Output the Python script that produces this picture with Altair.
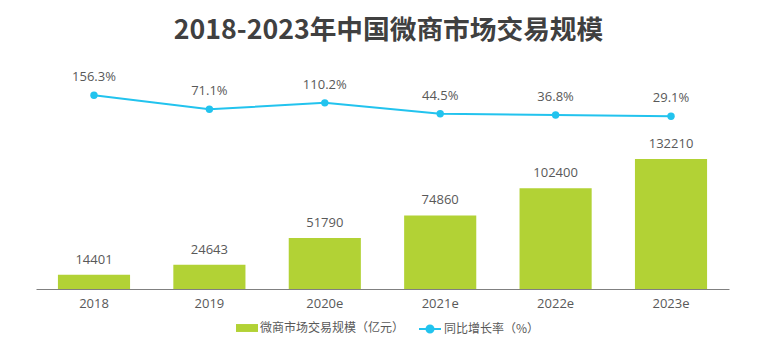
import altair as alt
import pandas as pd

years = ["2018", "2019", "2020e", "2021e", "2022e", "2023e"]
scale_values = [14401, 24643, 51790, 74860, 102400, 132210]
growth_rates = [156.3, 71.1, 110.2, 44.5, 36.8, 29.1]
bar_series = "微商市场交易规模（亿元）"
line_series = "同比增长率（%）"

GREEN = "#b2d235"
CYAN = "#22c3ee"
TEXT = "#595959"
NUM_FONT = "Open Sans, Noto Sans CJK SC"
CJK_FONT = "Noto Sans CJK SC"

df = pd.DataFrame({"year": years, "value": scale_values, "rate": growth_rates})
df["bar_series"] = bar_series
df["line_series"] = line_series
df["rate_label"] = [f"{r:.1f}%" for r in growth_rates]

base = alt.Chart(df)

xenc = alt.X(
    "year:N",
    sort=years,
    title=None,
    scale=alt.Scale(paddingInner=0.375, paddingOuter=0.19),
    axis=alt.Axis(
        domainColor="#808080",
        domainWidth=1,
        ticks=False,
        labelAngle=0,
        labelFont=NUM_FONT,
        labelFontSize=13,
        labelColor=TEXT,
        labelPadding=8,
        grid=False,
    ),
)

ybar = alt.Y("value:Q", scale=alt.Scale(domain=[0, 232893], nice=False, zero=False), axis=None)
yline = alt.Y("rate:Q", scale=alt.Scale(domain=[-1018, 370], nice=False, zero=False), axis=None)

bars = base.mark_bar(color=GREEN).encode(
    x=xenc,
    y=ybar,
    fill=alt.Fill(
        "bar_series:N",
        scale=alt.Scale(domain=[bar_series], range=[GREEN]),
        legend=alt.Legend(
            title=None,
            orient="none",
            legendX=200,
            legendY=257,
            padding=0,
            symbolType="M-1,-0.36L1,-0.36L1,0.36L-1,0.36Z",
            symbolSize=484,
            symbolStrokeWidth=0,
            labelFont=CJK_FONT,
            labelFontSize=12,
            labelColor=TEXT,
            labelOffset=2,
        ),
    ),
)

bar_text = base.mark_text(
    baseline="bottom", dy=-8, font=NUM_FONT, fontSize=13, color=TEXT
).encode(x=xenc, y=ybar, text=alt.Text("value:Q", format="d"))

line = base.mark_line(strokeWidth=2).encode(
    x=xenc,
    y=yline,
    stroke=alt.Stroke(
        "line_series:N",
        scale=alt.Scale(domain=[line_series], range=[CYAN]),
        legend=alt.Legend(
            title=None,
            orient="none",
            legendX=382,
            legendY=257,
            padding=0,
            symbolType="M-1,0L1,0M0.32,0A0.32,0.32 0 1,1 -0.32,0A0.32,0.32 0 1,1 0.32,0Z",
            symbolSize=484,
            symbolFillColor=CYAN,
            symbolStrokeColor=CYAN,
            symbolStrokeWidth=2,
            labelFont=CJK_FONT,
            labelFontSize=12,
            labelColor=TEXT,
            labelOffset=2,
        ),
    ),
)

points = base.mark_point(filled=True, size=55, color=CYAN, opacity=1).encode(x=xenc, y=yline)

line_text = base.mark_text(
    baseline="bottom", dy=-11, font=NUM_FONT, fontSize=13, color=TEXT
).encode(x=xenc, y=yline, text="rate_label:N")

chart = (
    alt.layer(bars, bar_text, line, points, line_text)
    .resolve_scale(y="independent")
    .properties(
        width=693,
        height=229,
        background="white",
        autosize=alt.AutoSizeParams(type="none"),
        padding={"left": 36, "top": 60, "right": 30, "bottom": 62},
        title=alt.TitleParams(
            "2018-2023年中国微商市场交易规模",
            font=CJK_FONT,
            fontSize=26.7,
            fontWeight="bold",
            color="#404040",
            anchor="middle",
            offset=15,
            dx=6,
        ),
    )
    .configure_view(strokeWidth=0, stroke="transparent")
)

chart.save("out.html", embed_options={"renderer": "svg", "actions": False})
